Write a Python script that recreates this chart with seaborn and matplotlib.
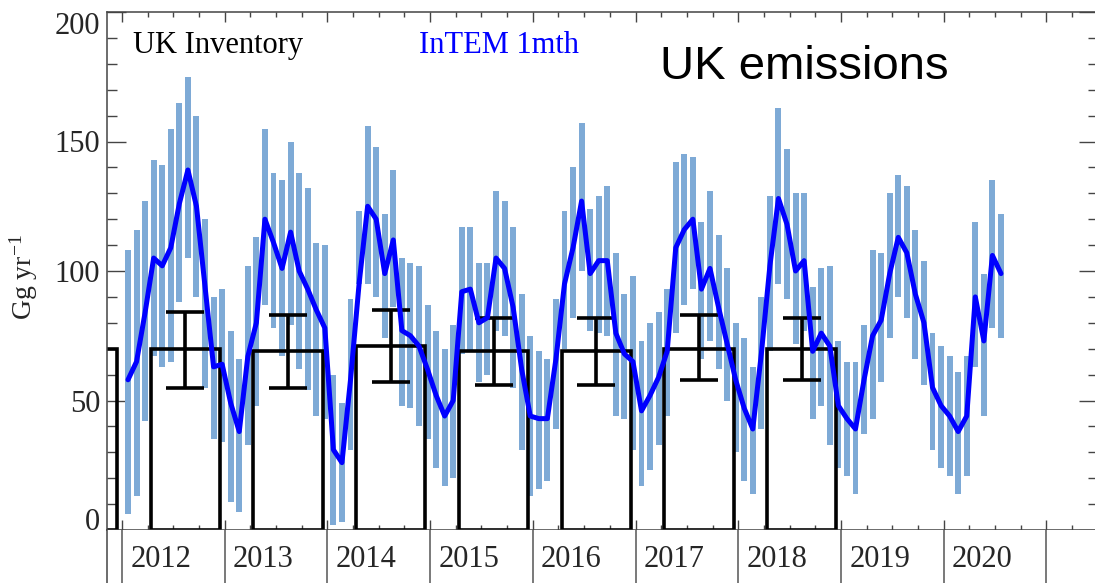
import numpy as np
import pandas as pd
import matplotlib
matplotlib.use('Agg')
import matplotlib.pyplot as plt
import seaborn as sns

# InTEM monthly estimates, Jan 2012 - Jul 2020 (Gg/yr)
intem_mean = [58, 65, 84, 105, 102, 109, 126, 139, 125, 94, 63, 64,
              49, 38, 67, 80, 120, 111, 101, 115, 100, 93, 85, 78,
              31, 26, 58, 95, 125, 120, 99, 112, 77, 75, 71, 62,
              52, 44, 50, 92, 93, 80, 82, 105, 101, 86, 62, 44,
              43, 43, 66, 95, 109, 127, 99, 104, 104, 76, 68, 65,
              46, 52, 59, 69, 109, 116, 120, 93, 101, 86, 72, 58,
              47, 39, 68, 102, 128, 118, 100, 104, 69, 76, 71, 48,
              43, 39, 58, 75, 81, 99, 113, 107, 91, 80, 55, 48,
              44, 38, 44, 90, 73, 106, 99]
intem_low = [6, 13, 42, 67, 63, 65, 88, 105, 90, 55, 35, 34,
             11, 7, 33, 48, 87, 78, 67, 79, 62, 54, 44, 43,
             2, 3, 31, 95, 95, 90, 74, 86, 48, 47, 40, 35,
             24, 17, 20, 68, 69, 57, 60, 77, 75, 55, 31, 13,
             16, 19, 39, 70, 82, 100, 77, 76, 75, 44, 43, 31,
             17, 23, 33, 44, 76, 87, 93, 66, 73, 62, 50, 30,
             19, 14, 39, 69, 95, 89, 72, 77, 43, 48, 33, 24,
             21, 14, 37, 43, 57, 74, 90, 82, 66, 56, 31, 24,
             21, 14, 21, 63, 44, 78, 74]
intem_high = [108, 116, 127, 143, 141, 155, 165, 175, 160, 120, 90, 93,
              77, 66, 102, 113, 155, 138, 135, 150, 138, 132, 111, 110,
              60, 49, 89, 123, 156, 148, 122, 139, 105, 103, 102, 87,
              77, 70, 79, 117, 117, 103, 103, 131, 127, 117, 91, 75,
              69, 66, 89, 123, 140, 157, 124, 129, 133, 107, 91, 98,
              73, 80, 84, 93, 142, 145, 144, 119, 131, 114, 101, 80,
              74, 63, 90, 129, 163, 147, 130, 130, 94, 101, 102, 73,
              65, 65, 79, 108, 107, 130, 137, 133, 116, 104, 76, 71,
              67, 61, 67, 119, 99, 135, 122]

# UK inventory (annual) with uncertainty range
inv_years = [2011, 2012, 2013, 2014, 2015, 2016, 2017, 2018]
inv_values = [70, 70, 69, 71, 69, 69, 70, 70]
inv_err_lo = [55, 55, 57, 56, 56, 58, 58]   # 2012-2018
inv_err_hi = [84, 83, 85, 82, 82, 83, 82]

year_labels = ['2012', '2013', '2014', '2015', '2016', '2017', '2018', '2019', '2020']

dates = pd.date_range('2012-01-01', periods=len(intem_mean), freq='MS')
df = pd.DataFrame({'t': dates.year + (dates.month - 1 + 0.7) / 12,
                   'mean': intem_mean, 'low': intem_low, 'high': intem_high})

sns.set_style('ticks')
plt.rcParams['font.family'] = ['Liberation Serif', 'DejaVu Serif']
plt.rcParams['mathtext.fontset'] = 'stix'

fig = plt.figure(figsize=(10.95, 5.83), dpi=100)
ax = fig.add_axes([107/1095, 53/583, 991/1095, 518/583])
axy = fig.add_axes([107/1095, 0, 991/1095, 53/583])

x0, x1 = 2011.854, 2021.503

# monthly uncertainty bars
ax.bar(df['t'], df['high'] - df['low'], bottom=df['low'], width=0.058,
       color='#7eaad6', linewidth=0, zorder=1)

# inventory boxes + error bars
inv_x = np.array(inv_years) + 0.6175
ax.bar(inv_x, inv_values, width=0.675, fill=False, edgecolor='black',
       linewidth=2.6, zorder=2)
vals = np.array(inv_values[1:])
ax.errorbar(inv_x[1:], vals, yerr=[vals - np.array(inv_err_lo), np.array(inv_err_hi) - vals],
            fmt='none', ecolor='black', elinewidth=2.6, capsize=13.7, capthick=2.6, zorder=3)

# InTEM line
sns.lineplot(data=df, x='t', y='mean', color='#0000ff', linewidth=3.6, ax=ax, zorder=4)

ax.set_xlim(x0, x1)
ax.set_ylim(0, 200)
ax.set_xlabel('')
ax.set_ylabel('')
ax.set_yticks([0, 50, 100, 150, 200])
ax.set_yticks(np.arange(0, 201, 10), minor=True)
ax.set_xticks(np.arange(2012, 2022))
ax.set_xticks(np.arange(2012, 2021.6, 0.25), minor=True)
ax.tick_params(axis='x', which='major', direction='in', top=True, bottom=True,
               length=7, width=1, color='#444444', labelbottom=False)
ax.tick_params(axis='x', which='minor', direction='in', top=True, bottom=True,
               length=3.5, width=1, color='#444444')
ax.tick_params(axis='y', which='major', direction='in', left=True, right=True,
               length=14, width=1, color='#444444', labelsize=22, pad=5)
ax.tick_params(axis='y', which='minor', direction='in', left=True, right=True,
               length=7.5, width=1, color='#444444')
for s in ax.spines.values():
    s.set_color('#444444')
    s.set_linewidth(1.1)
yt = ax.yaxis.get_major_ticks()
yt[0].label1.set_va('baseline')
yt[-1].label1.set_va('top')

ax.text(0.0262, 0.921, 'UK Inventory', transform=ax.transAxes, fontsize=22,
        color='black', va='baseline', zorder=5)
ax.text(0.3148, 0.921, 'InTEM 1mth', transform=ax.transAxes, fontsize=22,
        color='#0000ff', va='baseline', zorder=5)
ax.text(0.558, 0.8707, 'UK emissions', transform=ax.transAxes, fontsize=34,
        family=['Liberation Sans', 'DejaVu Sans'], color='black', va='baseline', zorder=5)

fig.text(24/1095, 1 - 277/583, r'Gg yr$^{\mathregular{-1}}$', rotation=90,
         ha='center', va='center', fontsize=20)

# year strip under the axis
axy.set_xlim(x0, x1)
axy.set_ylim(0, 1)
for y in range(2012, 2022):
    axy.axvline(y, color='#555555', linewidth=1.1)
for i, lab in enumerate(year_labels):
    axy.text(2012 + i + 0.08, 0.45, lab, fontsize=22, va='center', ha='left')
axy.set_xticks([])
axy.set_yticks([])
for k in ['top', 'right', 'bottom']:
    axy.spines[k].set_visible(False)
axy.spines['left'].set_color('#444444')
axy.spines['left'].set_linewidth(1.1)

fig.savefig('out.png', dpi=100)
